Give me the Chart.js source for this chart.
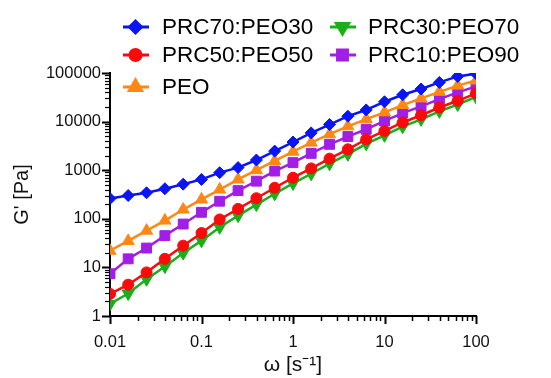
<!DOCTYPE html>
<html>
<head>
<meta charset="utf-8">
<script src="https://cdn.jsdelivr.net/npm/chart.js@4.4.0/dist/chart.umd.min.js"></script>
<style>
  body { margin: 0; background: #fff; }
</style>
</head>
<body>
<canvas id="chart" width="551" height="378"></canvas>
<script>
// angular frequency, rad/s
const omega = [0.01, 0.0158, 0.0251, 0.0398, 0.0631, 0.1, 0.158, 0.251, 0.398, 0.631, 1,
               1.58, 2.51, 3.98, 6.31, 10, 15.8, 25.1, 39.8, 63.1, 100]

// storage modulus G' [Pa]
const prc70 = [261, 301, 343, 415, 516, 646, 890, 1130, 1620, 2470, 3800,
               5850, 8700, 12900, 17400, 25600, 35600, 46900, 64000, 85000, 97000]
const prc50 = [2.85, 4.4, 7.9, 15, 28, 51, 97, 160, 265, 435, 700,
               1090, 1730, 2690, 4330, 6420, 9600, 13500, 19500, 26800, 38000]
const peo   = [22, 35, 57, 92, 155, 250, 400, 645, 1000, 1550, 2400,
               3700, 5500, 8000, 11200, 15500, 21900, 30000, 41000, 55000, 70000]
const prc30 = [1.77, 2.9, 5.7, 10.4, 19.7, 35.5, 67, 116, 196, 327, 535,
               845, 1360, 2135, 3490, 5220, 7870, 11150, 16250, 22500, 32200]
const prc10 = [7.4, 15, 25, 45, 78, 136, 230, 380, 595, 960, 1430,
               2220, 3410, 4920, 6950, 10300, 14900, 20600, 29000, 40000, 53000]

const xTickLabels = [0.01, 0.1, 1, 10, 100]
const yTickLabels = [1, 10, 100, 1000, 10000, 100000]

const series = [
    { label: 'PRC70:PEO30', data: prc70, color: 'rgb(10, 20, 245)',  style: 'rectRot',  radius: 6, rotation: 0 },
    { label: 'PRC50:PEO50', data: prc50, color: 'rgb(250, 10, 10)',  style: 'circle',   radius: 5.5, rotation: 0 },
    { label: 'PEO',         data: peo,   color: 'rgb(255, 135, 20)', style: 'triangle', radius: 7, rotation: 0 },
    { label: 'PRC30:PEO70', data: prc30, color: 'rgb(25, 175, 25)',  style: 'triangle', radius: 7, rotation: 180 },
    { label: 'PRC10:PEO90', data: prc10, color: 'rgb(160, 30, 230)', style: 'rect',     radius: 7, rotation: 0 }
]

// legend slots: [line start x, text x, row y]
const legendPos = [
    [123, 162, 27], [123, 162, 55], [123, 162, 87],
    [330, 368, 27], [330, 368, 55]
]

const fontFam = 'Arial, "Liberation Sans", Helvetica, sans-serif'

// log axis ticks: long at decades, short in between, pointing outwards
const logTicks = {
    id: 'logTicks',
    afterDraw(chart) {
        const ctx = chart.ctx
        const xs = chart.scales.x, ys = chart.scales.y
        ctx.save()
        ctx.strokeStyle = '#000'
        for (let e = -2; e <= 2; e++) {
            for (let m = 1; m < 10; m++) {
                const v = m * Math.pow(10, e)
                if (v > 100.0001) break
                const px = Math.round(xs.getPixelForValue(v)) + 0.5
                ctx.lineWidth = m == 1 ? 2 : 1.5
                ctx.beginPath()
                ctx.moveTo(px, xs.top)
                ctx.lineTo(px, xs.top + (m == 1 ? 8 : 5))
                ctx.stroke()
            }
        }
        for (let e = 0; e <= 5; e++) {
            for (let m = 1; m < 10; m++) {
                const v = m * Math.pow(10, e)
                if (v > 100000.1) break
                const py = Math.round(ys.getPixelForValue(v)) + 0.5
                ctx.lineWidth = m == 1 ? 2 : 1.2
                ctx.beginPath()
                ctx.moveTo(ys.right, py)
                ctx.lineTo(ys.right - (m == 1 ? 8 : 5), py)
                ctx.stroke()
            }
        }
        ctx.restore()
    }
}

// two-column legend that sits partly over the plot
const legendBox = {
    id: 'legendBox',
    afterDraw(chart) {
        const ctx = chart.ctx
        ctx.save()
        series.forEach((s, i) => {
            const [lx, tx, ty] = legendPos[i]
            ctx.strokeStyle = s.color
            ctx.lineWidth = 3
            ctx.beginPath()
            ctx.moveTo(lx, ty)
            ctx.lineTo(lx + 26, ty)
            ctx.stroke()
            ctx.fillStyle = s.color
            Chart.helpers.drawPoint(ctx, {
                pointStyle: s.style, radius: s.radius, rotation: s.rotation, borderWidth: 1
            }, lx + 12.5, ty)
            ctx.fillStyle = '#000'
            ctx.font = '22.5px ' + fontFam
            ctx.textBaseline = 'middle'
            ctx.textAlign = 'left'
            ctx.fillText(s.label, tx, ty + 1)
        })
        ctx.restore()
    }
}

const datasets = series.map(s => ({
    label: s.label,
    data: omega.map((w, i) => ({ x: w, y: s.data[i] })),
    borderColor: s.color,
    backgroundColor: s.color,
    pointBackgroundColor: s.color,
    pointBorderColor: s.color,
    pointStyle: s.style,
    pointRadius: s.radius,
    pointRotation: s.rotation,
    pointBorderWidth: 1,
    borderWidth: 2.5,
    tension: 0
}))

const canvas = document.getElementById('chart')

miChart = new Chart(canvas, {
    type: 'line',
    data: { datasets: datasets },
    options: {
        responsive: false,
        animation: false,
        layout: { padding: { top: 73, right: 75, left: 0, bottom: 0 } },
        plugins: {
            legend: { display: false },
            tooltip: { enabled: false }
        },
        scales: {
            x: {
                type: 'logarithmic',
                min: 0.01,
                max: 100,
                grid: { display: false, drawTicks: false },
                border: { display: true, color: '#000', width: 2 },
                afterBuildTicks: scale => { scale.ticks = xTickLabels.map(v => ({ value: v })) },
                ticks: {
                    autoSkip: false,
                    maxRotation: 0,
                    padding: 17,
                    color: '#111',
                    font: { size: 16.5, family: fontFam },
                    callback: v => String(v)
                },
                title: {
                    display: true,
                    text: 'ω [s⁻¹]',
                    color: '#111',
                    font: { size: 21, family: fontFam },
                    padding: { top: 0, bottom: 0 }
                },
                afterFit: scale => { scale.height = 62 }
            },
            y: {
                type: 'logarithmic',
                min: 1,
                max: 100000,
                grid: { display: false, drawTicks: false },
                border: { display: true, color: '#000', width: 2 },
                afterBuildTicks: scale => { scale.ticks = yTickLabels.map(v => ({ value: v })) },
                ticks: {
                    autoSkip: false,
                    padding: 9,
                    color: '#111',
                    font: { size: 16.5, family: fontFam },
                    callback: v => String(v)
                },
                title: {
                    display: true,
                    text: "G' [Pa]",
                    color: '#111',
                    font: { size: 20, family: fontFam },
                    padding: { top: 10, bottom: 0 }
                },
                afterFit: scale => { scale.width = 110 }
            }
        }
    },
    plugins: [logTicks, legendBox]
})
</script>
</body>
</html>
